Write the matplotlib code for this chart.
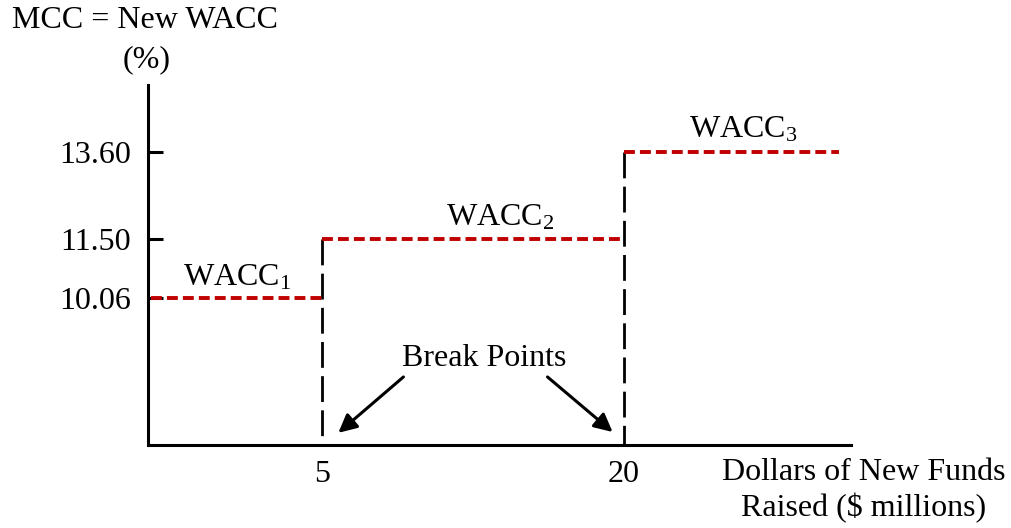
import matplotlib.pyplot as plt

plt.rcParams['font.family'] = ['Liberation Serif', 'DejaVu Serif']
plt.rcParams['mathtext.fontset'] = 'custom'
plt.rcParams['mathtext.rm'] = 'Liberation Serif'
plt.rcParams['mathtext.it'] = 'Liberation Serif'

# marginal cost of capital schedule
break_points = [5, 20]
wacc = [10.06, 11.50, 13.60]
x_start, x_end = -3.5, 30.7
wacc_labels = ["WACC$_1$", "WACC$_2$", "WACC$_3$"]
ytick_labels = ["10.06", "11.50", "13.60"]
xtick_labels = ["5", "20"]

RED = "#c00000"
FS = 23

fig = plt.figure(figsize=(10.11, 5.28), dpi=100)
ax = fig.add_axes([0.1464, 0.1572, 0.6953, 0.6818])
ax.set_xlim(-3.67, 31.31)
ax.set_ylim(6.495, 15.225)

# flat WACC segments (red dashed)
edges = [x_start] + break_points + [x_end]
for i, w in enumerate(wacc):
    ax.plot([edges[i], edges[i + 1]], [w, w], color=RED, lw=2.8,
            linestyle=(0, (2.8, 1.3)), dash_capstyle="butt", zorder=3)

# vertical jumps at the break points (black dashed, drawn from the top down)
for bp, top in zip(break_points, wacc[1:]):
    ax.plot([bp, bp], [top, ax.get_ylim()[0]], color="black", lw=2.0,
            linestyle=(0, (9.3, 3.0)), dash_capstyle="butt", zorder=2)

# segment labels
label_pos = [(0.76, 10.55), (13.87, 12.0), (25.93, 14.13)]
for (lx, ly), txt in zip(label_pos, wacc_labels):
    ax.text(lx, ly, txt, fontsize=FS, ha="center", va="center")

# break point callout
ax.text(13.07, 8.60, "Break Points", fontsize=FS, ha="center", va="center")
arrow = dict(arrowstyle="-|>,head_length=1.1,head_width=0.55", color="black",
             lw=2.2, shrinkA=0, shrinkB=0)
ax.annotate("", xy=(5.80, 6.79), xytext=(9.04, 8.145), arrowprops=arrow)
ax.annotate("", xy=(19.45, 6.81), xytext=(16.21, 8.145), arrowprops=arrow)

# axes styling
for s in ["top", "right"]:
    ax.spines[s].set_visible(False)
for s in ["left", "bottom"]:
    ax.spines[s].set_linewidth(2.2)

ax.set_yticks(wacc)
ax.set_yticklabels(ytick_labels, fontsize=FS)
ax.tick_params(axis="y", direction="in", length=11, width=2.2, pad=12)
ax.set_xticks(break_points)
ax.set_xticklabels(xtick_labels, fontsize=FS)
ax.tick_params(axis="x", length=0, pad=11)

fig.text(145 / 1011, 1 - 21 / 528, "MCC = New WACC", fontsize=FS,
         ha="center", va="center")
fig.text(147 / 1011, 1 - 60 / 528, "(%)", fontsize=FS, ha="center", va="center")
fig.text(864 / 1011, 1 - 491 / 528, "Dollars of New Funds\nRaised ($ millions)",
         fontsize=FS, ha="center", va="center", linespacing=1.25)

fig.savefig("out.png", dpi=100)
